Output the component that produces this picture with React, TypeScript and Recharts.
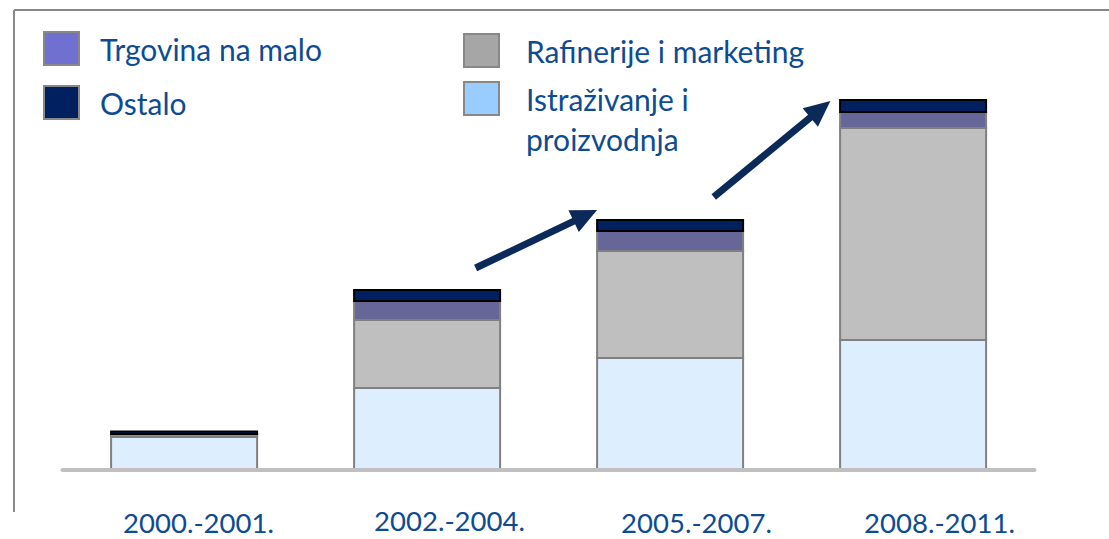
import { BarChart, Bar, XAxis, YAxis } from 'recharts';

const categories = ['2000.-2001.', '2002.-2004.', '2005.-2007.', '2008.-2011.'];
const istrazivanje = [33, 82, 112, 130];
const rafinerije = [2.5, 68, 107, 212];
const trgovina = [0.5, 19, 20, 16];
const ostalo = [2.5, 11, 11, 12];

const data = categories.map((period, i) => ({
  period,
  istrazivanje: istrazivanje[i],
  rafinerije: rafinerije[i],
  trgovina: trgovina[i],
  ostalo: ostalo[i],
}));

const W = 1109;
const H = 539;
const TEXT = '#0E4C92';
const FONT = 'Lato, "Open Sans", sans-serif';

// labels in the source sit a little right of the bar centres
const labelShiftX = [14.5, 22.5, 26.5, 26.5];
const labelShiftY = [2, 0, 2, 2];

const legendItems = [
  { name: 'Trgovina na malo', color: '#7070D0', left: 43, top: 31, textLeft: 57 },
  { name: 'Rafinerije i marketing', color: '#A6A6A6', left: 463, top: 33, textLeft: 63 },
  { name: 'Ostalo', color: '#002060', left: 43, top: 85, textLeft: 57 },
  { name: 'Istraživanje i\nproizvodnja', color: '#99CCFF', left: 463, top: 81, textLeft: 63 },
];

const LegendBox = () => (
  <div style={{ position: 'absolute', left: 0, top: 0, width: W, height: 170 }}>
    {legendItems.map((it) => (
      <div key={it.name} style={{ position: 'absolute', left: it.left, top: it.top }}>
        <div
          style={{
            position: 'absolute',
            left: 0,
            top: 0,
            width: 33,
            height: 31,
            background: it.color,
            border: '2px solid #888',
          }}
        />
        <div
          style={{
            position: 'absolute',
            left: it.textLeft,
            top: -2,
            whiteSpace: 'pre',
            fontFamily: FONT,
            fontSize: 30,
            lineHeight: '40px',
            color: TEXT,
          }}
        >
          {it.name}
        </div>
      </div>
    ))}
  </div>
);

const PeriodTick = (props: any) => {
  const { x, y, payload, index } = props;
  const i = index ?? 0;
  return (
    <text
      x={x + (labelShiftX[i] ?? 0)}
      y={y + 42 + (labelShiftY[i] ?? 0)}
      textAnchor="middle"
      dominantBaseline="central"
      fill={TEXT}
      fontSize={27.5}
      fontFamily={FONT}
    >
      {payload.value}
    </text>
  );
};

// growth arrows, placed along the band layout
const left = 62.5;
const band = 243;
const arrows = [
  { x1: left + band * 1.7, y1: 268, x2: left + band * 2.2, y2: 210 },
  { x1: left + band * 2.68, y1: 197, x2: left + band * 3.16, y2: 101 },
];

const Arrow = ({ x1, y1, x2, y2 }: { x1: number; y1: number; x2: number; y2: number }) => {
  const ang = Math.atan2(y2 - y1, x2 - x1);
  const len = 26;
  const half = 12;
  const bx = x2 - len * Math.cos(ang);
  const by = y2 - len * Math.sin(ang);
  const px = -Math.sin(ang) * half;
  const py = Math.cos(ang) * half;
  return (
    <g>
      <line x1={x1} y1={y1} x2={bx + 2 * Math.cos(ang)} y2={by + 2 * Math.sin(ang)} stroke="#0B2A5A" strokeWidth={7} />
      <polygon points={`${x2},${y2} ${bx + px},${by + py} ${bx - px},${by - py}`} fill="#0B2A5A" />
    </g>
  );
};

export default function App() {
  return (
    <div style={{ position: 'absolute', left: 0, top: 0, width: W, height: H, background: '#fff' }}>
      <BarChart
        width={W}
        height={H}
        data={data}
        margin={{ top: 70, right: 74.5, bottom: 0, left: 62.5 }}
        barCategoryGap="20%"
      >
        <XAxis
          dataKey="period"
          height={69}
          tickLine={false}
          axisLine={{ stroke: '#C0C0C0', strokeWidth: 4, strokeLinecap: 'round' }}
          tick={<PeriodTick />}
          interval={0}
        />
        <YAxis hide domain={[0, 400]} />
        <Bar dataKey="istrazivanje" stackId="a" fill="#DDEEFF" stroke="#808080" strokeWidth={2} isAnimationActive={false} />
        <Bar dataKey="rafinerije" stackId="a" fill="#BFBFBF" stroke="#808080" strokeWidth={2} isAnimationActive={false} />
        <Bar dataKey="trgovina" stackId="a" fill="#666699" stroke="#808080" strokeWidth={2} isAnimationActive={false} />
        <Bar dataKey="ostalo" stackId="a" fill="#002060" stroke="#000" strokeWidth={2} isAnimationActive={false} />
      </BarChart>
      <LegendBox />
      <svg width={W} height={H} style={{ position: 'absolute', left: 0, top: 0, pointerEvents: 'none' }}>
        <line x1={14} y1={10} x2={W} y2={10} stroke="#888" strokeWidth={2} />
        <line x1={14} y1={10} x2={14} y2={512} stroke="#888" strokeWidth={2} />
        {arrows.map((a, i) => (
          <Arrow key={i} {...a} />
        ))}
      </svg>
    </div>
  );
}
